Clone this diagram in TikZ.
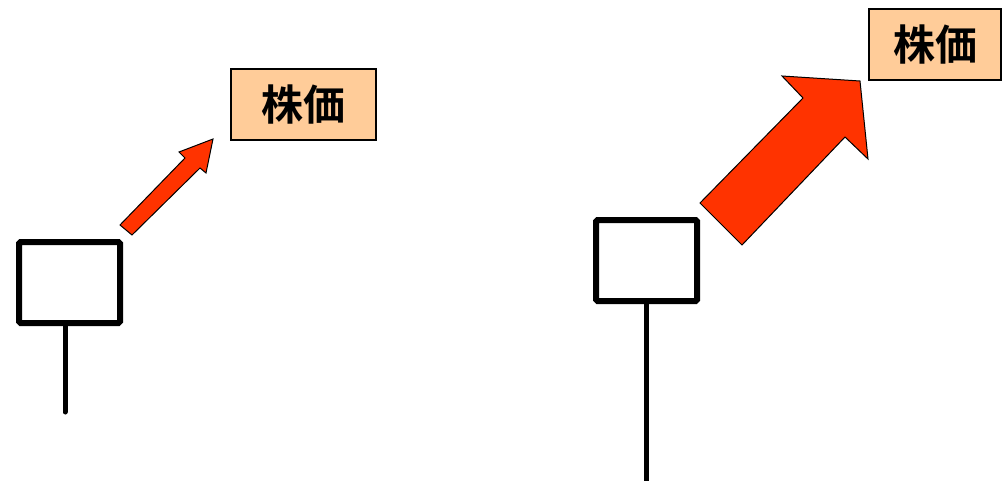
\documentclass[tikz,border=0pt]{standalone}
\usepackage{fontspec}
\newfontfamily\cjk[BoldFont={Noto Sans CJK JP Bold}]{Noto Sans CJK JP}
\definecolor{peach}{HTML}{FFCC99}
\definecolor{upred}{HTML}{FF3300}
\begin{document}
\begin{tikzpicture}[x=1pt,y=-1pt,
  label/.style={draw=black,line width=1.5pt,fill=peach,inner sep=0pt,
    font=\cjk\bfseries\fontsize{42}{50}\selectfont},
  body/.style={draw=black,line width=6pt,rounded corners=1.5pt,inner sep=0pt,fill=white},
  wick/.style={line width=5pt,line cap=round},
  fatarrow/.style={draw=black,line width=1pt,fill=upred,line join=miter}]
\useasboundingbox (0,0) rectangle (1003,481);
% left
\node[label,minimum width=145pt,minimum height=71pt] (L1) at (303.5,104.5) {\raisebox{-2pt}{株価}};
\coordinate (W1) at (65,412);
\draw[wick] (65,300) -- (W1);
\node[body,minimum width=101pt,minimum height=81pt] (B1) at (69.5,282.5) {};
\draw[fatarrow] (120,225) -- (185,158) -- (179,152) -- (213,139) -- (206,173) -- (200,168) -- (132,235) -- cycle;
% right
\node[label,minimum width=132pt,minimum height=71pt] (L2) at (935,44.5) {\raisebox{-1pt}{株価}};
\coordinate (W2) at (646,484);
\draw[wick] (646,280) -- (W2);
\node[body,minimum width=101pt,minimum height=81pt] (B2) at (646.5,260.5) {};
\draw[fatarrow] (700,203) -- (803,98) -- (782,76) -- (860,81) -- (868,159) -- (845,137) -- (742,245) -- cycle;
\end{tikzpicture}
\end{document}
